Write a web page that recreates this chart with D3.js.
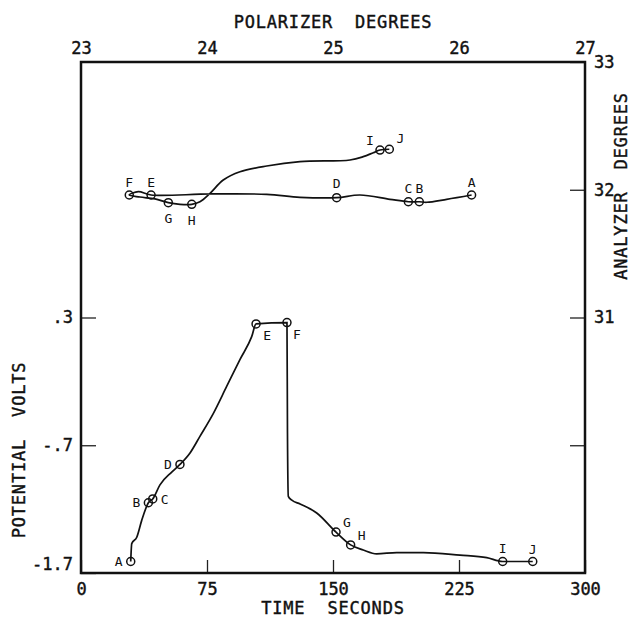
<!DOCTYPE html>
<html>
<head>
<meta charset="utf-8">
<script src="https://cdn.jsdelivr.net/npm/d3@7"></script>
<style>
  body { margin: 0; background: #fff; }
  text { font-family: "DejaVu Sans Mono", monospace; fill: #111; }
</style>
</head>
<body>
<div class="chart"></div>
<script>
// lower curve: potential (volts) against time (seconds)
const lowerTime = [29.6, 30.2, 33.2, 36.1, 40.1, 42.7, 47.0, 54.0, 58.9, 64.9, 70.8, 78.8, 86.7, 94.6, 101.6, 104.2,
  122.6, 122.9, 123.4, 125.5, 130.4, 140.3, 151.8, 160.5, 168.0, 176.0, 187.9, 203.8, 225.6, 241.5, 251.0, 268.9];
const lowerVolts = [-1.61, -1.47, -1.42, -1.29, -1.15, -1.12, -1.01, -0.91, -0.85, -0.76, -0.63, -0.45, -0.24, -0.03, 0.15, 0.25,
  0.26, -0.6, -1.10, -1.13, -1.16, -1.23, -1.38, -1.48, -1.52, -1.55, -1.54, -1.54, -1.56, -1.58, -1.61, -1.61];

// upper curve: analyzer against polarizer (degrees), A -> J
const upperPol = [26.10, 25.902, 25.744, 25.685, 25.598, 25.452, 25.214, 25.029, 24.738, 24.474, 24.024, 23.556, 23.455, 23.383,
  23.468, 23.587, 23.693, 23.786, 23.879, 23.944, 24.024, 24.129, 24.262, 24.474, 24.738, 25.135, 25.240, 25.320, 25.373, 25.447];
const upperAna = [31.959, 31.925, 31.902, 31.906, 31.906, 31.925, 31.959, 31.938, 31.941, 31.964, 31.967, 31.959, 31.985, 31.959,
  31.943, 31.928, 31.899, 31.886, 31.886, 31.906, 31.972, 32.076, 32.141, 32.186, 32.220, 32.233, 32.259, 32.290, 32.311, 32.317];

// marked points
const markLabels = ["A", "B", "C", "D", "E", "F", "G", "H", "I", "J"];
const lowerMarkIdx = [0, 4, 5, 8, 15, 16, 22, 23, 30, 31];
const upperMarkIdx = [0, 3, 4, 7, 11, 13, 16, 18, 28, 29];

// axis ticks
const timeTicks = [0, 75, 150, 225, 300];
const voltTicks = [0.3, -0.7, -1.7];
const voltLabels = [".3", "-.7", "-1.7"];
const polTicks = [23, 24, 25, 26, 27];
const anaTicks = [33, 32, 31, 30];
const anaLabels = ["33", "32", "31", ""];

const W = 635, H = 621;
const margin = { top: 62, right: 50, bottom: 48, left: 81 };
const iw = W - margin.left - margin.right;
const ih = H - margin.top - margin.bottom;

const x = d3.scaleLinear().domain([0, 300]).range([0, iw]);
const xTop = d3.scaleLinear().domain([23, 27]).range([0, iw]);
const yLeft = d3.scaleLinear().domain([-1.7, 2.3]).range([ih, 0]);
const yRight = d3.scaleLinear().domain([29, 33]).range([ih, 0]);

const svg = d3.select(".chart").append("svg")
  .attr("width", W)
  .attr("height", H);

const g = svg.append("g")
  .attr("transform", `translate(${margin.left},${margin.top})`);

// axes
const fs = 17;

const axBottom = g.append("g")
  .attr("transform", `translate(0,${ih})`)
  .call(d3.axisBottom(x).tickValues(timeTicks).tickSize(-13).tickPadding(10).tickFormat(d3.format("d")));

const axLeft = g.append("g")
  .call(d3.axisLeft(yLeft).tickValues(voltTicks).tickSize(-15).tickPadding(8)
    .tickFormat((d, i) => voltLabels[i]));
axLeft.selectAll(".tick text").filter(d => d === -1.7).attr("dy", "-0.2em");

const axRight = g.append("g")
  .attr("transform", `translate(${iw},0)`)
  .call(d3.axisRight(yRight).tickValues(anaTicks).tickSize(-15).tickPadding(9)
    .tickFormat((d, i) => anaLabels[i]));

const axTop = g.append("g")
  .call(d3.axisTop(xTop).tickValues(polTicks).tickSize(0).tickPadding(8).tickFormat(d3.format("d")));

[axBottom, axLeft, axRight, axTop].forEach(ax => {
  ax.select(".domain").remove();
  ax.selectAll(".tick line").attr("stroke", "#222").attr("stroke-width", 1.3);
  ax.selectAll(".tick text")
    .attr("font-family", "DejaVu Sans Mono")
    .attr("font-size", fs)
    .attr("fill", "#111")
    .attr("stroke", "#111")
    .attr("stroke-width", 0.4);
});

// frame
g.append("rect")
  .attr("width", iw)
  .attr("height", ih)
  .attr("fill", "none")
  .attr("stroke", "#111")
  .attr("stroke-width", 2.5);

// titles
const title = (txt) => svg.append("text")
  .text(txt)
  .style("white-space", "pre")
  .attr("font-size", 17)
  .attr("letter-spacing", 0.8)
  .attr("stroke", "#111")
  .attr("stroke-width", 0.4)
  .attr("text-anchor", "middle");

title("POLARIZER  DEGREES").attr("x", margin.left + iw / 2).attr("y", 28);
title("TIME  SECONDS").attr("x", margin.left + iw / 2).attr("y", 614);
title("POTENTIAL  VOLTS").attr("transform", "translate(25,450) rotate(-90)");
title("ANALYZER  DEGREES").attr("transform", "translate(627,186) rotate(-90)");

// curves
const lowerLine = d3.line()
  .x(i => x(lowerTime[i]))
  .y(i => yLeft(lowerVolts[i]))
  .curve(d3.curveMonotoneX);

const upperLine = d3.line()
  .x(i => xTop(upperPol[i]))
  .y(i => yRight(upperAna[i]))
  .curve(d3.curveCatmullRom.alpha(0.5));

g.append("path")
  .attr("d", lowerLine(d3.range(lowerTime.length)))
  .attr("fill", "none")
  .attr("stroke", "#111")
  .attr("stroke-width", 1.7);

g.append("path")
  .attr("d", upperLine(d3.range(upperPol.length)))
  .attr("fill", "none")
  .attr("stroke", "#111")
  .attr("stroke-width", 1.7);

// markers + letters
const lowerOffsets = [[-12, 0], [-12, 0], [12, 0], [-12, 0], [11, 11], [10, 12], [11, -10], [11, -10], [0, -13], [0, -12]];
const upperOffsets = [[0, -13], [0, -13], [0, -13], [0, -14], [0, -13], [0, -13], [0, 16], [0, 16], [-10, -10], [11, -11]];

const marks = (idx, px, py, offsets) => {
  idx.forEach((k, j) => {
    const cx = px(k), cy = py(k);
    g.append("circle")
      .attr("cx", cx)
      .attr("cy", cy)
      .attr("r", 4)
      .attr("fill", "none")
      .attr("stroke", "#111")
      .attr("stroke-width", 1.5);
    g.append("text")
      .attr("x", cx + offsets[j][0])
      .attr("y", cy + offsets[j][1])
      .attr("dy", "0.36em")
      .attr("text-anchor", "middle")
      .attr("font-size", 13)
      .text(markLabels[j]);
  });
};

marks(lowerMarkIdx, k => x(lowerTime[k]), k => yLeft(lowerVolts[k]), lowerOffsets);
marks(upperMarkIdx, k => xTop(upperPol[k]), k => yRight(upperAna[k]), upperOffsets);
</script>
</body>
</html>
